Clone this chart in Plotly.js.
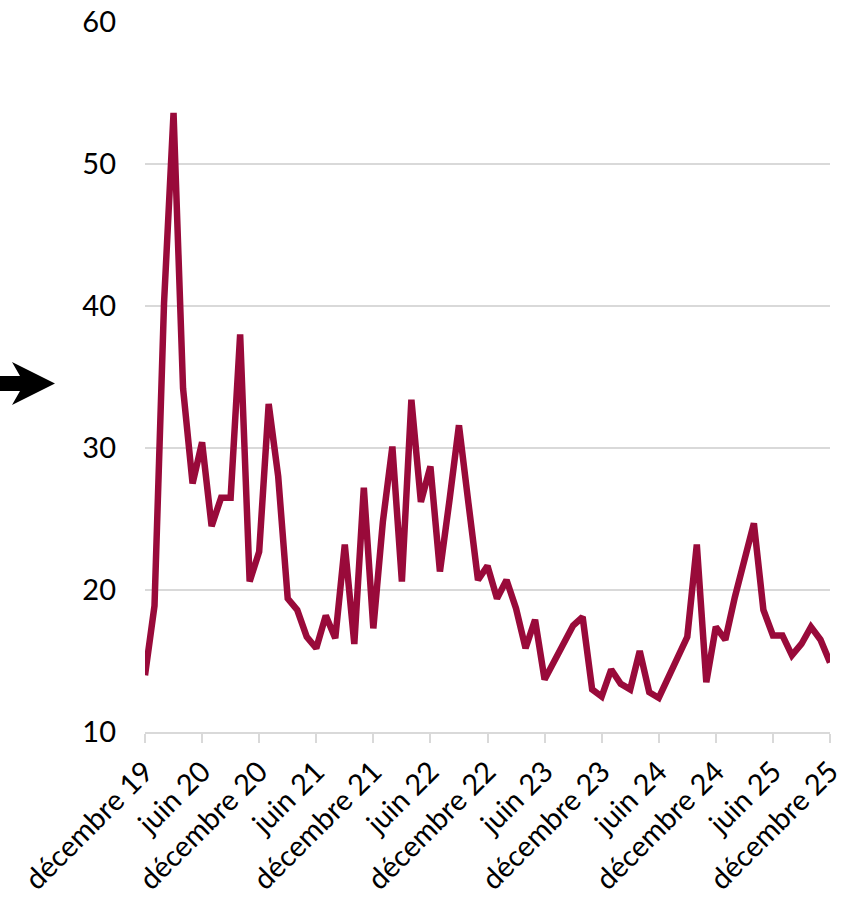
<!DOCTYPE html>
<html>
<head>
<meta charset="utf-8">
<script src="https://cdn.plot.ly/plotly-3.0.1.min.js"></script>
<style>
  html, body { margin: 0; padding: 0; background: #ffffff; }
  #chart { width: 856px; height: 897px; }
</style>
</head>
<body>
<div id="chart"></div>
<script>
// Monthly series, December 2019 .. December 2025 (73 months)
const startYear = 2019;
const startMonth = 12;
const values = [
  14.0, 18.9, 40.2, 53.6, 34.2, 27.5, 30.4, 24.5, 26.5, 26.5, 38.0, 20.6,
  22.7, 33.1, 28.0, 19.4, 18.6, 16.7, 15.9, 18.2, 16.6, 23.2, 16.2, 27.2,
  17.3, 24.8, 30.1, 20.6, 33.4, 26.2, 28.7, 21.3, 26.3, 31.6, 26.1, 20.7,
  21.7, 19.4, 20.7, 18.7, 15.9, 17.9, 13.7, 15.0, 16.3, 17.5, 18.1, 13.0,
  12.5, 14.4, 13.4, 13.0, 15.7, 12.8, 12.4, 13.8, 15.3, 16.7, 23.2, 13.5,
  17.4, 16.5, 19.5, 22.2, 24.7, 18.6, 16.8, 16.8, 15.4, 16.2, 17.4, 16.5,
  14.9
];
const tickMonths = ["2019-12","2020-06","2020-12","2021-06","2021-12","2022-06","2022-12",
                    "2023-06","2023-12","2024-06","2024-12","2025-06","2025-12"];
const tickLabels = ["décembre 19","juin 20","décembre 20","juin 21","décembre 21","juin 22",
                    "décembre 22","juin 23","décembre 23","juin 24","décembre 24","juin 25","décembre 25"];
const yTicks = [10, 20, 30, 40, 50, 60];

// month category keys
const months = [];
for (let i = 0; i < values.length; i++) {
  const m0 = startMonth - 1 + i;
  const y = startYear + Math.floor(m0 / 12);
  const m = (m0 % 12) + 1;
  months.push(y + "-" + (m < 10 ? "0" + m : m));
}

// plot-area pixel frame (for the decorative arrow placed outside the axes)
const L = 145, R = 830, T = 22, B = 732;
const px = (x) => (x - L) / (R - L);
const py = (y) => (B - y) / (B - T);
const arrowPts = [[0,376],[20,376],[12,362],[55,383.5],[12,405],[20,391],[0,391]];
const arrowPath = "M" + arrowPts.map(p => px(p[0]).toFixed(5) + "," + py(p[1]).toFixed(5)).join(" L") + " Z";

const FONT = "Lato, 'Open Sans', sans-serif";

const trace = {
  x: months,
  y: values,
  type: "scatter",
  mode: "lines",
  line: { color: "#990a3a", width: 6.5, shape: "linear" },
  hoverinfo: "x+y"
};

const layout = {
  width: 856,
  height: 897,
  margin: { l: L, r: 856 - R, t: T, b: 897 - B },
  paper_bgcolor: "#ffffff",
  plot_bgcolor: "#ffffff",
  showlegend: false,
  font: { family: FONT, size: 29, color: "#000000" },
  xaxis: {
    type: "category",
    range: [0, values.length - 1],
    tickmode: "array",
    tickvals: tickMonths,
    ticktext: tickLabels,
    tickangle: -45,
    ticks: "outside",
    ticklen: 9,
    tickwidth: 2,
    tickcolor: "#d9d9d9",
    showline: true,
    linecolor: "#d9d9d9",
    linewidth: 2,
    showgrid: false,
    zeroline: false,
    tickfont: { family: FONT, size: 29, color: "#000000" }
  },
  yaxis: {
    range: [10, 60],
    tickmode: "array",
    tickvals: yTicks,
    showgrid: true,
    gridcolor: "#d9d9d9",
    gridwidth: 2,
    zeroline: false,
    showline: false,
    ticks: "",
    ticklabelstandoff: 28,
    tickfont: { family: FONT, size: 29, color: "#000000" }
  },
  shapes: [
    {
      type: "path",
      xref: "paper",
      yref: "paper",
      path: arrowPath,
      fillcolor: "#000000",
      line: { width: 0 },
      layer: "above"
    }
  ]
};

Plotly.newPlot("chart", [trace], layout, { displayModeBar: false, staticPlot: true });
</script>
</body>
</html>
